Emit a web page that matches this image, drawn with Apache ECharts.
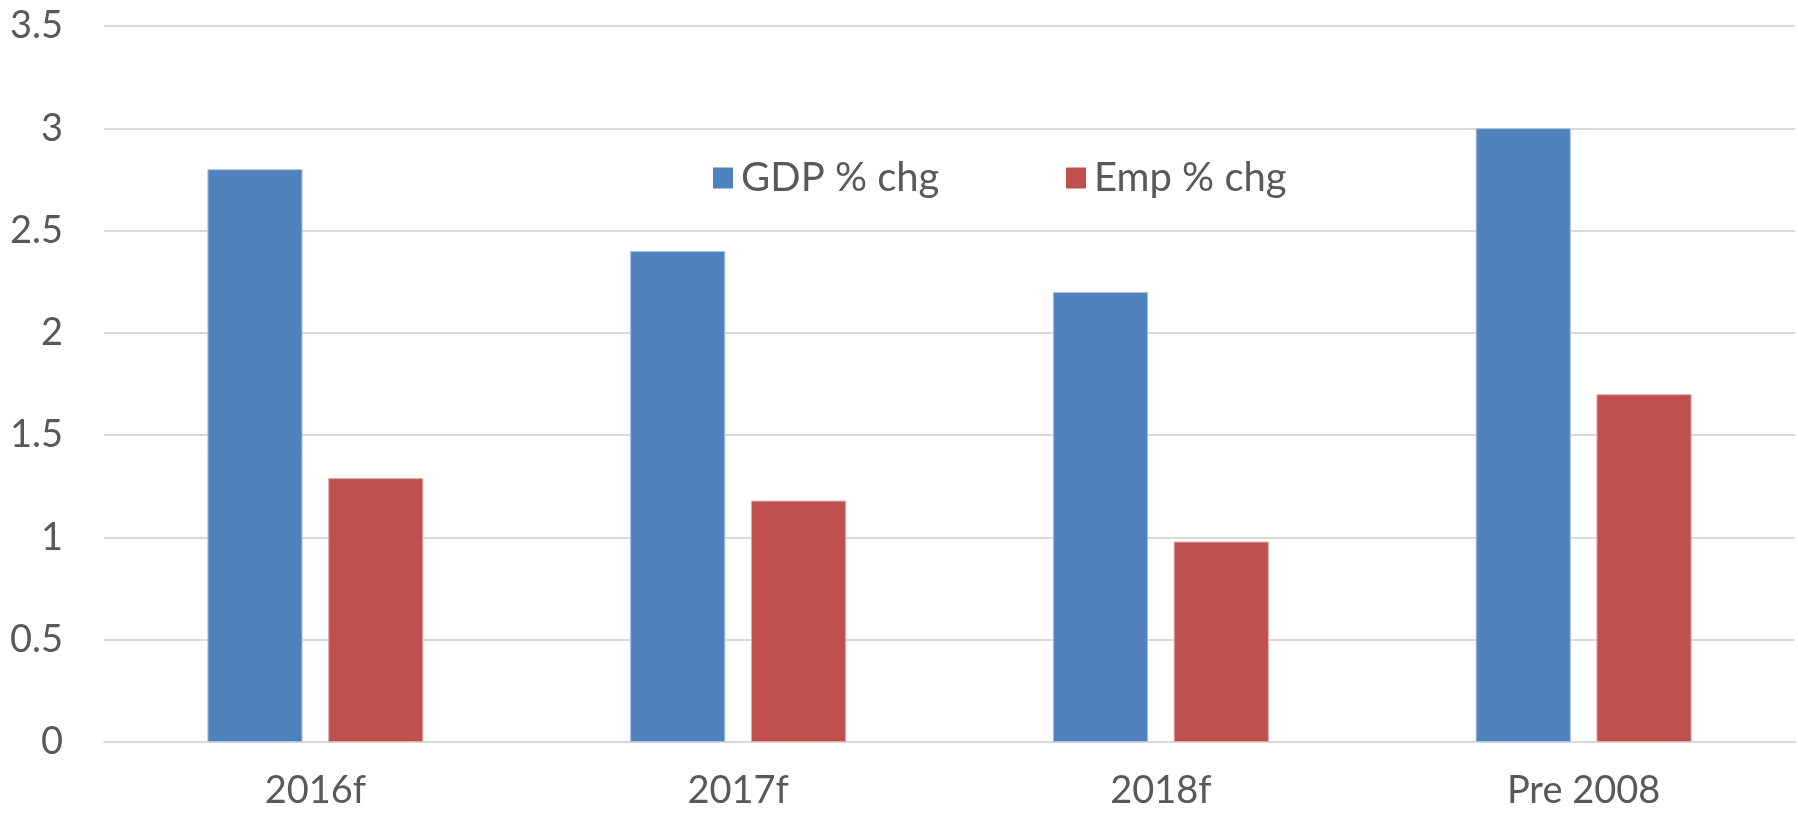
<!DOCTYPE html>
<html>
<head>
<meta charset="utf-8">
<script src="https://cdn.jsdelivr.net/npm/echarts@6/dist/echarts.min.js"></script>
<style>
  html, body { margin: 0; padding: 0; background: #fff; }
  #chart { width: 1798px; height: 813px; }
</style>
</head>
<body>
<div id="chart"></div>
<script>
var categories = ['2016f', '2017f', '2018f', 'Pre 2008'];
var gdpValues = [2.8, 2.4, 2.2, 3.0];
var empValues = [1.29, 1.18, 0.98, 1.7];
var seriesNames = ['GDP % chg', 'Emp % chg'];

var textColor = '#595959';
var fontName = 'Lato, "Open Sans", sans-serif';

function legendFor(name, left) {
    return {
        data: [name],
        left: left, top: 153,
        itemWidth: 20, itemHeight: 21,
        icon: 'rect',
        itemStyle: { borderWidth: 0 },
        textStyle: { color: textColor, fontSize: 40, fontFamily: fontName, padding: [0, 0, 0, 3] }
    };
}

var option = {
    animation: false,
    backgroundColor: '#fff',
    textStyle: { fontFamily: fontName },
    grid: { left: 104, right: 3, top: 26, bottom: 71, containLabel: false },
    legend: [legendFor(seriesNames[0], 708), legendFor(seriesNames[1], 1061)],
    xAxis: {
        type: 'category',
        data: categories,
        axisLine: { show: true, lineStyle: { color: '#d9d9d9', width: 2 } },
        axisTick: { show: false },
        axisLabel: { color: textColor, fontSize: 38, margin: 30, fontFamily: fontName }
    },
    yAxis: {
        type: 'value',
        min: 0, max: 3.5, interval: 0.5,
        axisLine: { show: false },
        axisTick: { show: false },
        splitLine: { lineStyle: { color: '#d9d9d9', width: 2 } },
        axisLabel: { color: textColor, fontSize: 38, margin: 41, fontFamily: fontName }
    },
    series: [{
        name: seriesNames[0],
        type: 'bar',
        data: gdpValues,
        barWidth: '22.5%',
        barGap: '27%',
        itemStyle: { color: '#4F81BD', borderColor: '#a7c0e0', borderWidth: 1 }
    }, {
        name: seriesNames[1],
        type: 'bar',
        data: empValues,
        barWidth: '22.5%',
        itemStyle: { color: '#C0504D', borderColor: '#e0a9a7', borderWidth: 1 }
    }]
};

var myChart = echarts.init(document.getElementById('chart'));
myChart.setOption(option);
</script>
</body>
</html>
